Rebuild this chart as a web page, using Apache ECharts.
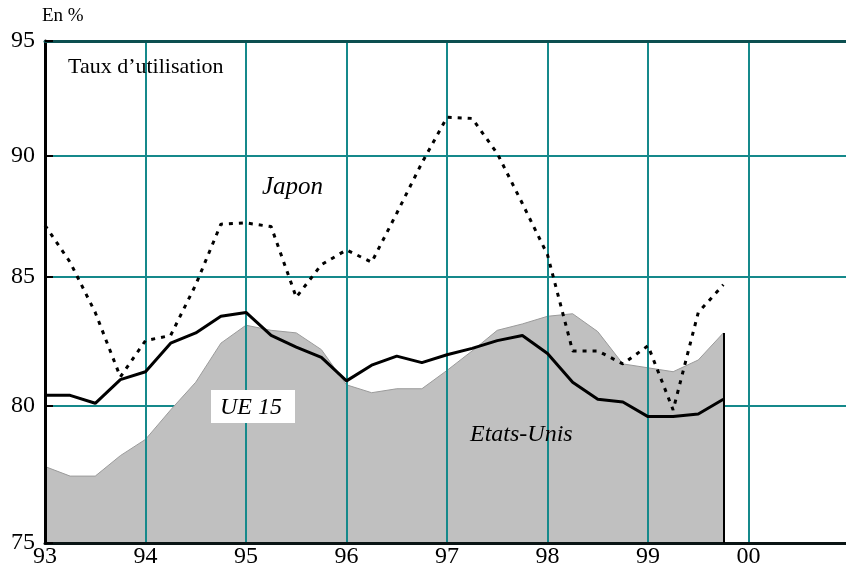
<!DOCTYPE html>
<html>
<head>
<meta charset="utf-8">
<script src="https://cdn.jsdelivr.net/npm/echarts@6/dist/echarts.min.js"></script>
<style>html,body{margin:0;padding:0;background:#fff;}#c{width:846px;height:574px;}</style>
</head>
<body>
<div id="c"></div>
<script>
// Quarterly observations, 1993 Q1 to 1999 Q4
var quarters = [1993, 1993.25, 1993.5, 1993.75, 1994, 1994.25, 1994.5, 1994.75,
  1995, 1995.25, 1995.5, 1995.75, 1996, 1996.25, 1996.5, 1996.75,
  1997, 1997.25, 1997.5, 1997.75, 1998, 1998.25, 1998.5, 1998.75,
  1999, 1999.25, 1999.5, 1999.75];
// Capacity utilisation rate, %
var ue15 = [80.4, 80.4, 80.1, 81.0, 81.3, 82.4, 82.8, 83.45,
  83.6, 82.7, 82.25, 81.85, 80.95, 81.55, 81.9, 81.65,
  81.95, 82.2, 82.5, 82.7, 82.0, 80.9, 80.25, 80.15,
  79.6, 79.6, 79.7, 80.25];
var japon = [87.1, 85.6, 83.6, 81.1, 82.5, 82.7, 84.7, 87.15,
  87.2, 87.05, 84.2, 85.5, 86.1, 85.6, 87.6, 89.7,
  91.65, 91.6, 90.1, 88.0, 85.9, 82.1, 82.1, 81.6,
  82.3, 79.85, 83.6, 84.7];
var etatsUnis = [77.75, 77.4, 77.4, 78.15, 78.75, 79.85, 80.9, 82.4,
  83.1, 82.9, 82.8, 82.15, 80.8, 80.5, 80.65, 80.65,
  81.35, 82.1, 82.9, 83.15, 83.45, 83.55, 82.85, 81.6,
  81.45, 81.3, 81.75, 82.8];
var yTicks = [75, 80, 85, 90, 95];
var xTicks = [1993, 1994, 1995, 1996, 1997, 1998, 1999, 2000];
var xLabels = ['93', '94', '95', '96', '97', '98', '99', '00'];

function pairs(vals) { return quarters.map(function (q, i) { return [q, vals[i]]; }); }

var serif = 'Liberation Serif';
var teal = '#15898b';
var chart = echarts.init(document.getElementById('c'), null, { renderer: 'canvas' });
var lastQ = quarters[quarters.length - 1];
var lastUS = etatsUnis[etatsUnis.length - 1];

chart.setOption({
  animation: false,
  grid: { left: 45, right: 0, top: 41, height: 502, containLabel: false },
  xAxis: [{
    type: 'value', min: 1993, max: 2000.97, z: 2,
    axisLine: { show: true, onZero: false, lineStyle: { color: '#0a1414', width: 3 } },
    axisTick: { show: false, customValues: xTicks },
    axisLabel: {
      customValues: xTicks, margin: 2, color: '#000', fontFamily: serif, fontSize: 24,
      formatter: function (v) { return xLabels[xTicks.indexOf(Math.round(v))] || ''; }
    },
    splitLine: { show: true, lineStyle: { color: teal, width: 2 } }
  }, {
    type: 'value', min: 1993, max: 2000.97, position: 'top', z: 6,
    axisLine: { show: true, onZero: false, lineStyle: { color: '#0c4f50', width: 3 } },
    axisTick: { show: false }, axisLabel: { show: false }, splitLine: { show: false }
  }],
  yAxis: [{
    type: 'log', logBase: 10, min: 75, max: 95, z: 0, position: 'left',
    axisLine: { show: false }, axisLabel: { show: false },
    axisTick: { show: false, customValues: yTicks },
    splitLine: { show: true, lineStyle: { color: teal, width: 2 } }
  }, {
    type: 'log', logBase: 10, min: 75, max: 95, z: 6, position: 'left',
    axisLine: { show: true, onZero: false, lineStyle: { color: '#000', width: 3 } },
    axisTick: { show: true, inside: true, length: 8, customValues: yTicks, lineStyle: { color: '#000', width: 2 } },
    axisLabel: { customValues: yTicks, margin: 10, color: '#000', fontFamily: serif, fontSize: 24 },
    splitLine: { show: false }
  }],
  series: [{
    name: 'Etats-Unis', type: 'line', z: 1, data: pairs(etatsUnis), symbol: 'none',
    lineStyle: { color: '#9a9a9a', width: 1 },
    areaStyle: { color: '#c0c0c0', origin: 'start', opacity: 1 },
    markLine: {
      silent: true, symbol: 'none', label: { show: false },
      lineStyle: { color: '#000', width: 2, type: 'solid' },
      data: [[{ coord: [lastQ, 75] }, { coord: [lastQ, lastUS] }]]
    }
  }, {
    name: 'UE 15', type: 'line', z: 3, data: pairs(ue15), symbol: 'none',
    lineStyle: { color: '#000', width: 3 }
  }, {
    name: 'Japon', type: 'line', z: 3, data: pairs(japon), symbol: 'none',
    lineStyle: { color: '#000', width: 3, type: [4, 6], cap: 'butt' }
  }],
  graphic: [
    { type: 'text', left: 42, top: 7, z: 10, style: { text: 'En %', fontFamily: serif, fontSize: 19, fill: '#000' } },
    { type: 'text', x: 68, y: 67, z: 10, style: { text: 'Taux d\u2019utilisation', fontFamily: serif, fontSize: 22, fill: '#000', verticalAlign: 'middle' } },
    { type: 'text', x: 262, y: 187, z: 10, style: { text: 'Japon', fontFamily: serif, fontStyle: 'italic', fontSize: 25, fill: '#000', verticalAlign: 'middle' } },
    { type: 'rect', shape: { x: 211, y: 390, width: 84, height: 33 }, z: 9, style: { fill: '#fff' } },
    { type: 'text', x: 220, y: 408, z: 10, style: { text: 'UE 15', fontFamily: serif, fontStyle: 'italic', fontSize: 24, fill: '#000', verticalAlign: 'middle' } },
    { type: 'text', x: 470, y: 435, z: 10, style: { text: 'Etats-Unis', fontFamily: serif, fontStyle: 'italic', fontSize: 24, fill: '#000', verticalAlign: 'middle' } }
  ]
});
</script>
</body>
</html>
